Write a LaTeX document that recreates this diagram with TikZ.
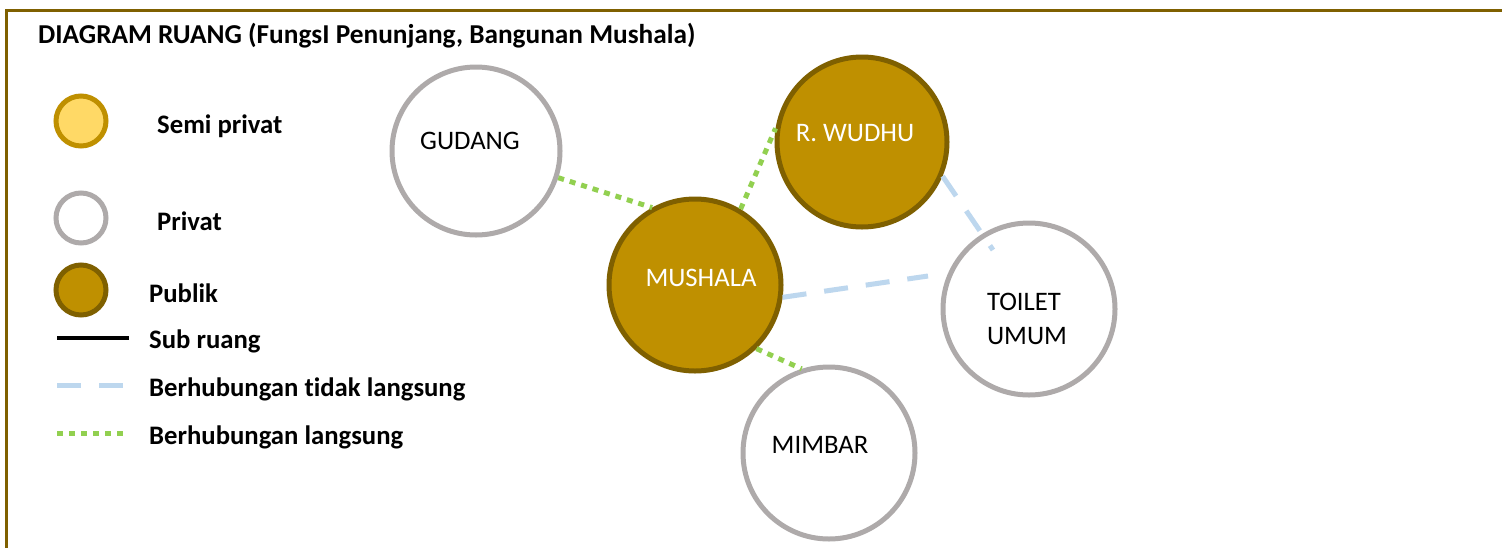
\documentclass[tikz,border=0pt]{standalone}
\usepackage{fontspec}
\setmainfont{Carlito}[Ligatures=NoCommon]
\usetikzlibrary{calc}
\definecolor{gold}{HTML}{BF9000}
\definecolor{darkgold}{HTML}{7F6000}
\definecolor{lightgold}{HTML}{FFD966}
\definecolor{greyring}{HTML}{AEAAAA}
\definecolor{paleblue}{HTML}{BDD7EE}
\definecolor{lgreen}{HTML}{92D050}
\tikzset{
  x=1pt,y=-1pt,
  pub/.style={circle,draw=darkgold,fill=gold,line width=5pt,minimum size=#1,inner sep=0pt},
  priv/.style={circle,draw=greyring,fill=white,line width=5pt,minimum size=#1,inner sep=0pt},
  semi/.style={circle,draw=gold,fill=lightgold,line width=5pt,minimum size=#1,inner sep=0pt},
  direct/.style={lgreen,line width=5pt,dash pattern=on 6pt off 6pt},
  indirect/.style={paleblue,line width=5pt,dash pattern=on 24pt off 18pt},
  lbl/.style={font=\fontsize{26.7}{32}\selectfont,inner sep=0pt},
  leg/.style={font=\bfseries\fontsize{26.7}{32}\selectfont,anchor=west,inner sep=0pt},
}
\begin{document}
\begin{tikzpicture}
\useasboundingbox (0,0) rectangle (1502,547);
\fill[white] (0,0) rectangle (1502,547);
\draw[darkgold,line width=3.5pt] (6.5,560) -- (6.5,10.5) -- (1510,10.5);
\node[anchor=west,inner sep=0pt,font=\bfseries\fontsize{27.3}{32}\selectfont] (title) at (38,36) {DIAGRAM RUANG (FungsI Penunjang, Bangunan Mushala)};

% legend
\node[semi=50pt] (l1) at (81,121) {};
\node[leg] (t1) at (157,126) {Semi privat};
\node[priv=50pt] (l2) at (81,218) {};
\node[leg] (t2) at (157,221) {Privat};
\node[pub=50pt] (l3) at (81,290) {};
\node[leg] (t3) at (149,293) {Publik};
\coordinate (s1) at (57,338); \coordinate (s2) at (129,338);
\draw[black,line width=4.5pt] (s1) -- (s2);
\node[leg] (t4) at (149,341) {Sub ruang};
\coordinate (b1) at (57,385); \coordinate (b2) at (123,385);
\draw[indirect] (b1) -- (b2);
\node[leg] (t5) at (149,389) {Berhubungan tidak langsung};
\coordinate (g1) at (57,433); \coordinate (g2) at (123,433);
\draw[direct] (g1) -- (g2);
\node[leg] (t6) at (149,437) {Berhubungan langsung};

% rooms
\node[priv=168pt] (gud) at (476,151) {};
\node[lbl] at (470,141) {GUDANG};
\node[pub=170pt] (wud) at (862,142) {};
\node[lbl,text=white] at (855,133) {R. WUDHU};
\node[pub=172pt] (mus) at (695,285) {};
\node[lbl,text=white] at (701,278) {MUSHALA};
\node[priv=172pt] (toi) at (1029,309) {};
\node[lbl,align=left,font=\fontsize{26.7}{34}\selectfont] at (1027,319) {TOILET\\UMUM};
\node[priv=172pt] (mim) at (829,453) {};
\node[lbl] at (820,445) {MIMBAR};

% connectors
\coordinate (te1) at (928,276);
\coordinate (te2) at (993,250);
\draw[direct] (gud.-18) -- (mus.119);
\draw[direct] (mus.59) -- (wud.171);
\draw[direct] (mus.-46) -- (mim.108);
\draw[indirect] (mus.-8) -- (te1);
\draw[indirect] (wud.-23) -- (te2);
\end{tikzpicture}
\end{document}
